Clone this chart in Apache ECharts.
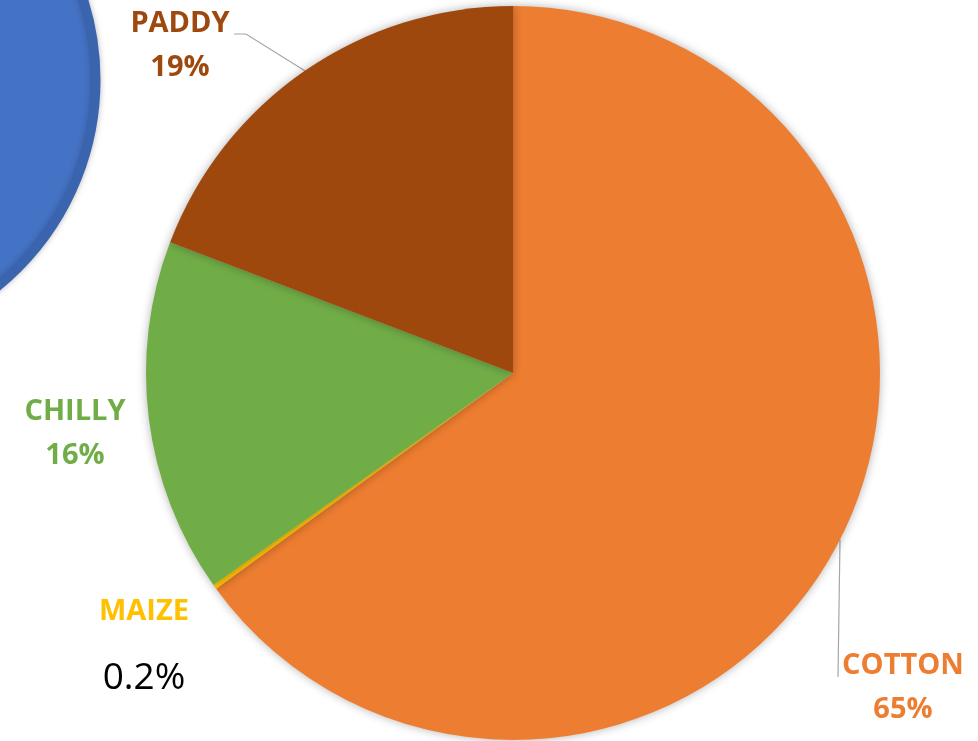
<!DOCTYPE html>
<html>
<head>
<meta charset="utf-8">
<script src="https://cdn.jsdelivr.net/npm/echarts@6/dist/echarts.min.js"></script>
<style>
  html, body { margin: 0; padding: 0; background: #fff; }
  #chart { width: 978px; height: 741px; }
</style>
</head>
<body>
<div id="chart"></div>
<script>
// crop shares (%), clockwise from 12 o'clock
var crops = ['COTTON', 'MAIZE', 'CHILLY', 'PADDY'];
var shares = [65, 0.2, 15.6, 19.2];
var cropColors = ['#ED7D31', '#FFC000', '#70AD47', '#9E480E'];

// the second (blue) pie that is cut off at the top left
var otherNames = ['OTHERS'];
var otherShares = [100];

// where each label sits, and the end of its leader line
var labelSpots = {
    COTTON: { x: 903, y: 688, line: [[838, 677]] },
    MAIZE:  { x: 144, y: 656 },
    CHILLY: { x: 75,  y: 434 },
    PADDY:  { x: 180, y: 46, line: [[246, 34], [234, 34]] }
};

var FONT = '"Open Sans", "Liberation Sans", sans-serif';

function pctText(p) {
    return p < 1 ? p.toFixed(1) + '%' : Math.round(p) + '%';
}

var chart = echarts.init(document.getElementById('chart'));

var cropData = crops.map(function (name, i) {
    var color = cropColors[i];
    var hasLine = !!labelSpots[name].line;
    var rich = {
        n: { color: color, fontFamily: FONT, fontWeight: 'bold', fontSize: 29, lineHeight: 44 },
        p: { color: color, fontFamily: FONT, fontWeight: 'bold', fontSize: 29, lineHeight: 44 }
    };
    if (name === 'MAIZE') {
        rich.p = { color: '#000', fontFamily: FONT, fontWeight: 'normal', fontSize: 37, lineHeight: 88 };
    }
    return {
        name: name,
        value: shares[i],
        itemStyle: { color: color },
        label: { rich: rich },
        labelLine: { show: hasLine }
    };
});

chart.setOption({
    animation: false,
    backgroundColor: '#fff',
    series: [
        {
            name: 'others',
            type: 'pie',
            silent: true,
            center: [-170, 80],
            radius: [0, 266],
            label: { show: false },
            labelLine: { show: false },
            itemStyle: {
                color: '#4472C4',
                borderColor: '#3A64AE',
                borderWidth: 9,
                shadowBlur: 6,
                shadowColor: 'rgba(0,0,0,0.25)'
            },
            data: otherNames.map(function (n, i) { return { name: n, value: otherShares[i] }; })
        },
        {
            name: 'crops',
            type: 'pie',
            center: [513, 373],
            radius: [0, 367],
            startAngle: 90,
            clockwise: true,
            avoidLabelOverlap: false,
            itemStyle: {
                borderWidth: 0,
                shadowBlur: 10,
                shadowColor: 'rgba(0,0,0,0.3)'
            },
            label: {
                show: true,
                position: 'outside',
                formatter: function (p) {
                    return '{n|' + p.name + '}\n{p|' + pctText(p.percent) + '}';
                }
            },
            labelLine: {
                lineStyle: { color: '#A6A6A6', width: 1.2 }
            },
            labelLayout: function (params) {
                var name = crops[params.dataIndex];
                var spot = labelSpots[name];
                var out = { x: spot.x, y: spot.y, align: 'center', verticalAlign: 'middle' };
                if (spot.line && params.labelLinePoints) {
                    out.labelLinePoints = [params.labelLinePoints[0]].concat(spot.line);
                }
                return out;
            },
            data: cropData
        }
    ]
});
</script>
</body>
</html>
